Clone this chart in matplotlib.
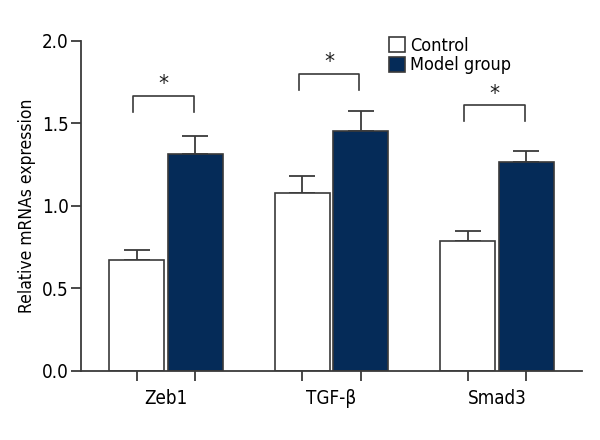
import matplotlib
matplotlib.use("Agg")
import matplotlib.pyplot as plt
import numpy as np

plt.rcParams['font.family'] = ['DejaVu Sans']
plt.rcParams['font.stretch'] = 'condensed'

genes = ["Zeb1", "TGF-β", "Smad3"]
control = [0.67, 1.08, 0.79]
control_err = [0.06, 0.10, 0.06]
model = [1.315, 1.453, 1.265]
model_err = [0.11, 0.125, 0.07]
bracket_y = [1.667, 1.80, 1.61]
yticks = [0.0, 0.5, 1.0, 1.5, 2.0]

edge = '#3a3a3a'
navy = '#052b58'

fig = plt.figure(figsize=(6, 4.4), dpi=100)
ax = fig.add_axes([0.135, 0.157, 0.835, 0.75])

x = np.arange(len(genes))
off = 0.178
w = 0.332

ax.bar(x - off, control, w, color='white', edgecolor=edge, linewidth=1.2,
       label='Control', zorder=2)
ax.bar(x + off, model, w, color=navy, edgecolor=edge, linewidth=1.2,
       label='Model group', zorder=2)
ax.errorbar(x - off, control, yerr=[np.zeros(3), control_err], fmt='none',
            ecolor=edge, elinewidth=1.3, capsize=9.5, capthick=1.3, zorder=1)
ax.errorbar(x + off, model, yerr=[np.zeros(3), model_err], fmt='none',
            ecolor=edge, elinewidth=1.3, capsize=9.5, capthick=1.3, zorder=1)

# significance brackets
for i, by in enumerate(bracket_y):
    x0, x1 = x[i] - off - 0.02, x[i] + off - 0.01
    ax.plot([x0, x0, x1, x1], [by - 0.095, by, by, by - 0.095],
            color=edge, linewidth=1.2, clip_on=False)
    ax.text((x0 + x1) / 2, by + 0.01, '*', ha='center', va='bottom',
            fontsize=16, color='#222222')

ax.set_xlim(-0.514, 2.514)
ax.set_ylim(0, 2.0)
ax.set_yticks(yticks)
ax.set_yticklabels([f"{v:.1f}" for v in yticks], fontsize=13.5)
ax.set_xticks(np.concatenate([x - off, x + off]))
ax.set_xticklabels([])
for i, g in enumerate(genes):
    ax.text(x[i], -0.11, g, ha='center', va='top', fontsize=13.5,
            transform=ax.transData)
ax.set_ylabel("Relative mRNAs expression", fontsize=12.5, labelpad=4)

for s in ['top', 'right']:
    ax.spines[s].set_visible(False)
for s in ['left', 'bottom']:
    ax.spines[s].set_color(edge)
    ax.spines[s].set_linewidth(1.3)
ax.tick_params(axis='both', color=edge, width=1.3, length=7)
ax.tick_params(axis='y', pad=2)

ax.legend(loc='upper left', bbox_to_anchor=(0.6, 1.035), frameon=False,
          fontsize=13, handlelength=0.9, handleheight=0.9, handletextpad=0.3,
          labelspacing=0.1, borderaxespad=0)

fig.savefig("out.png", dpi=100)
